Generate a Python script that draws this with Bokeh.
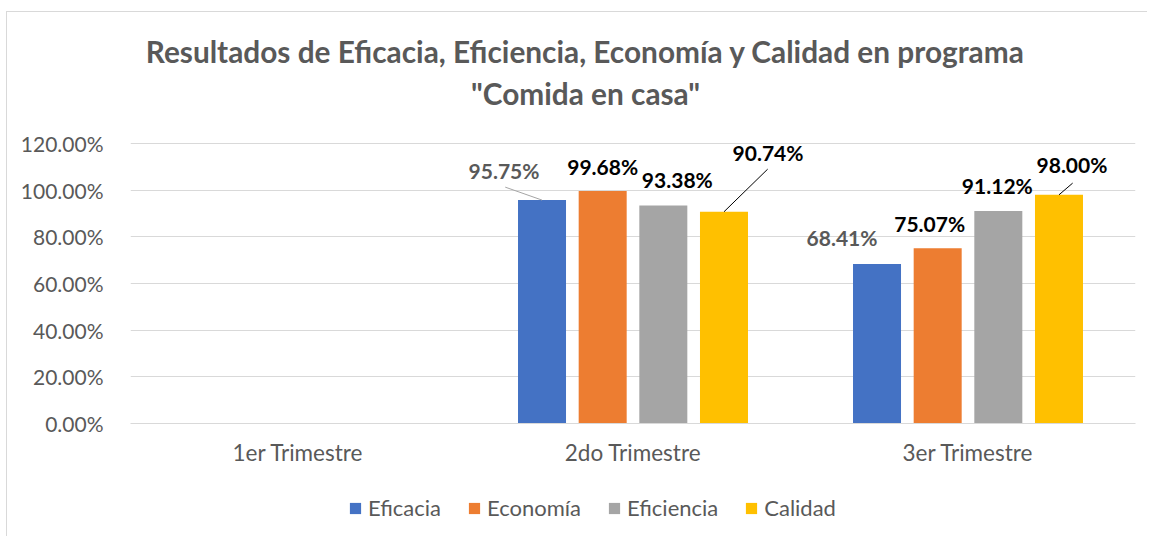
import numpy as np
from bokeh.plotting import figure
from bokeh.layouts import column
from bokeh.models import (FactorRange, Range1d, NumeralTickFormatter, FixedTicker,
                          ColumnDataSource, Label, Legend, LegendItem)
from bokeh.transform import dodge
from bokeh.core.properties import value
from bokeh.embed import file_html
from bokeh.resources import INLINE

# ---------------- data ----------------
categories = ["1er Trimestre", "2do Trimestre", "3er Trimestre"]
series_names = ["Eficacia", "Economía", "Eficiencia", "Calidad"]
eficacia = [np.nan, 0.9575, 0.6841]
economia = [np.nan, 0.9968, 0.7507]
eficiencia = [np.nan, 0.9338, 0.9112]
calidad = [np.nan, 0.9074, 0.9800]
y_ticks = [0.0, 0.2, 0.4, 0.6, 0.8, 1.0, 1.2]
title_lines = ["Resultados de Eficacia, Eficiencia, Economía y Calidad en programa",
               "\"Comida en casa\""]

# ---------------- styling ----------------
colors = ["#4472C4", "#ED7D31", "#A5A5A5", "#FFC000"]
dodges = [-0.2716, -0.0905, 0.0905, 0.2716]
bar_width = 0.1433
label_colors = [["#595959"] * 3, ["#000000"] * 3, ["#000000"] * 3, ["#000000"] * 3]
# label offsets in pixels relative to bar top centre (dx right, dy up)
label_dx = [[0, -38, -35], [0, 0, -8], [0, 14, -1], [0, 44, 13]]
label_dy = [[0, 30, 26], [0, 24, 25], [0, 26, 25], [0, 59, 30]]
# leader lines: (series index, category index, angle deg, length px, color)
leaders = [(0, 1, 160.6, 39, "#A5A5A5"),
           (3, 1, 44.3, 61, "#000000"),
           (3, 2, 40.6, 18, "#000000")]

FONT = "Lato"
TXT = "#595959"

W = 1140
H_MAIN = 460
BOTTOM = 49                     # space under the 0% line for the category labels
FRAME_H = H_MAIN - BOTTOM       # frame reaches the top of the canvas (title area)
PLOT_H = 280                    # pixel height of the 0..120% area
y_top = 1.2 * FRAME_H / PLOT_H

p = figure(x_range=FactorRange(*categories), y_range=Range1d(0, y_top),
           width=W, height=H_MAIN, output_backend="svg", toolbar_location=None,
           min_border_left=123, min_border_right=12, min_border_top=0,
           min_border_bottom=BOTTOM)
p.outline_line_color = None
p.background_fill_color = "white"
p.border_fill_color = "white"

all_series = [eficacia, economia, eficiencia, calidad]
for i, (name, vals) in enumerate(zip(series_names, all_series)):
    texts = ["" if np.isnan(v) else f"{v*100:.2f}%" for v in vals]
    src = ColumnDataSource(dict(cat=categories, val=vals, txt=texts,
                                dx=label_dx[i], dy=[-d for d in label_dy[i]],
                                col=label_colors[i]))
    p.vbar(x=dodge("cat", dodges[i], range=p.x_range), top="val", width=bar_width,
           source=src, fill_color=colors[i], line_color=None)
    p.text(x=dodge("cat", dodges[i], range=p.x_range), y="val", text="txt", source=src,
           x_offset="dx", y_offset="dy", text_color="col",
           text_font=value(FONT), text_font_style="bold", text_font_size="21px",
           text_align="center", text_baseline="middle")

for si, ci, ang, ln, col in leaders:
    src = ColumnDataSource(dict(cat=[categories[ci]], val=[all_series[si][ci]]))
    p.ray(x=dodge("cat", dodges[si], range=p.x_range), y="val", source=src,
          length=ln, length_units="screen", angle=ang, angle_units="deg",
          line_color=col, line_width=1)

# axes
p.yaxis.ticker = FixedTicker(ticks=y_ticks)
p.yaxis.formatter = NumeralTickFormatter(format="0.00%")
p.yaxis.axis_line_color = None
p.yaxis.major_tick_line_color = None
p.yaxis.minor_tick_line_color = None
p.yaxis.major_label_standoff = 21
p.yaxis.major_label_text_font_size = "21px"
p.xaxis.axis_line_color = "#d9d9d9"
p.xaxis.major_tick_line_color = None
p.xaxis.minor_tick_line_color = None
p.xaxis.major_label_standoff = 9
p.xaxis.major_label_text_font_size = "22.5px"
for ax in (p.xaxis, p.yaxis):
    ax.major_label_text_font = FONT
    ax.major_label_text_color = TXT
p.xgrid.grid_line_color = None
p.ygrid.grid_line_color = "#d9d9d9"
p.ygrid.grid_line_width = 1

# title (two centred lines)
for txt, yy in zip(title_lines, [372, 330]):
    p.add_layout(Label(x=455, y=yy, x_units="screen", y_units="screen", text=txt,
                       text_font=FONT, text_font_style="bold", text_font_size="29.8px",
                       text_color=TXT, text_align="center", text_baseline="middle"))

# legend strip (its frame is aligned with the main plot's frame by the column layout)
H_LEG = 64
pl = figure(width=W, height=H_LEG, x_range=Range1d(0, 1), y_range=Range1d(0, 1),
            output_backend="svg", toolbar_location=None,
            min_border_left=0, min_border_right=0, min_border_top=0, min_border_bottom=0)
pl.axis.visible = False
pl.grid.visible = False
pl.outline_line_color = None
pl.background_fill_color = "white"
pl.border_fill_color = "white"
leg_r = [pl.vbar(x=[np.nan], top=[np.nan], width=0.1, fill_color=c, line_color=None)
         for c in colors]
legend = Legend(items=[LegendItem(label=n, renderers=[r]) for n, r in zip(series_names, leg_r)],
                orientation="horizontal", location=(218, 15),
                glyph_width=14, glyph_height=14, label_standoff=6, spacing=26,
                padding=0, margin=0, border_line_color=None, background_fill_alpha=0,
                label_text_font=FONT, label_text_font_size="22px", label_text_color=TXT)
pl.add_layout(legend)

layout = column(p, pl, spacing=0,
                styles={"border-top": "1px solid #d9d9d9", "border-left": "1px solid #d9d9d9",
                        "margin-left": "6px", "margin-top": "11px"})

open("out.html", "w").write(file_html(layout, INLINE))
